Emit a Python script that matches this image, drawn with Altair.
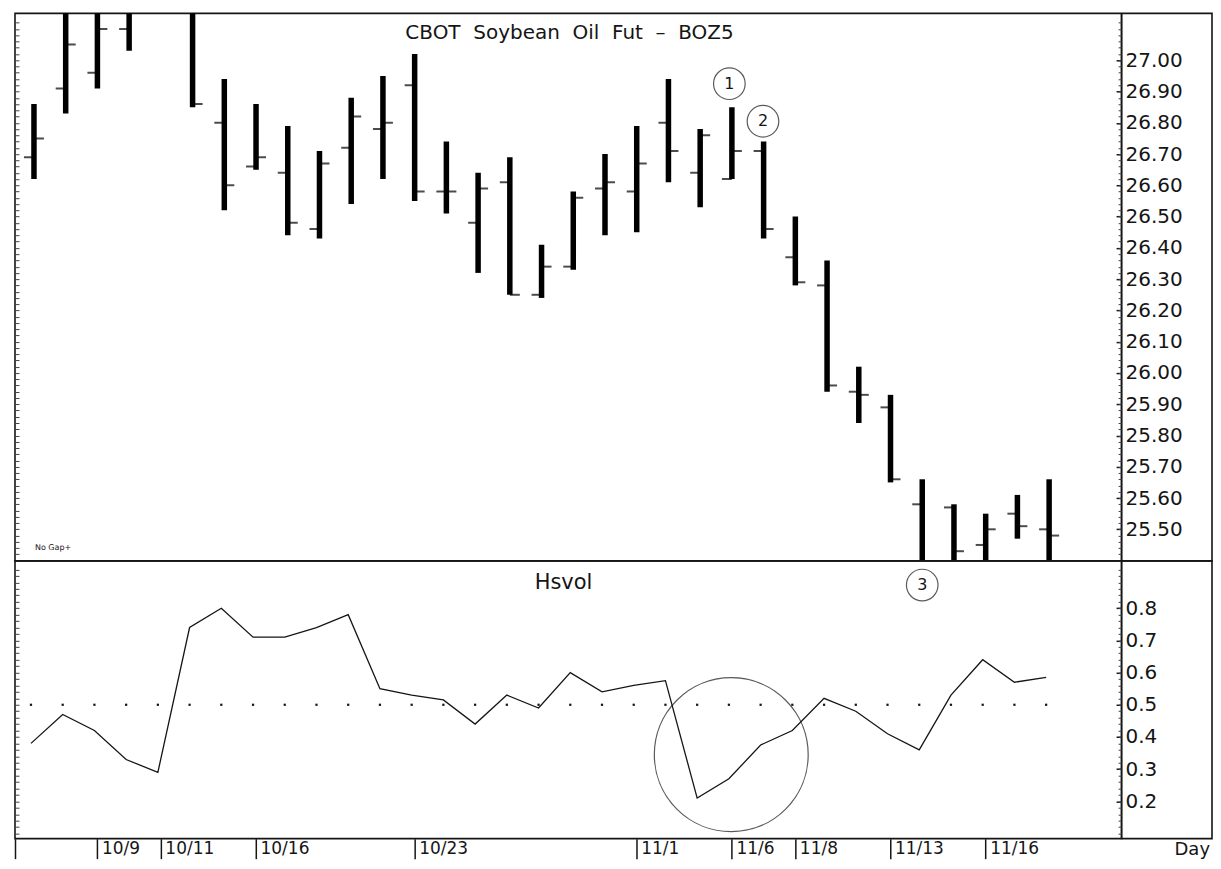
import altair as alt
import pandas as pd
import numpy as np

# ---------------- data ----------------
dates = ["10/5", "10/8", "10/9", "10/10", "10/11", "10/12", "10/15", "10/16", "10/17",
         "10/18", "10/19", "10/22", "10/23", "10/24", "10/25", "10/26", "10/29", "10/30",
         "10/31", "11/1", "11/2", "11/5", "11/6", "11/7", "11/8", "11/9", "11/12", "11/13",
         "11/14", "11/15", "11/16", "11/19", "11/20"]
opens = [26.69, 26.91, 26.96, 27.10, 27.30, 27.18, 26.80, 26.66, 26.64, 26.46, 26.72,
         26.78, 26.92, 26.58, 26.48, 26.61, 26.25, 26.34, 26.59, 26.58, 26.80, 26.64,
         26.62, 26.71, 26.37, 26.28, 25.94, 25.89, 25.58, 25.57, 25.45, 25.55, 25.50]
highs = [26.86, 27.20, 27.20, 27.20, 27.40, 27.20, 26.94, 26.86, 26.79, 26.71, 26.88,
         26.95, 27.02, 26.74, 26.64, 26.69, 26.41, 26.58, 26.70, 26.79, 26.94, 26.78,
         26.85, 26.74, 26.50, 26.36, 26.02, 25.93, 25.66, 25.58, 25.55, 25.61, 25.66]
lows = [26.62, 26.83, 26.91, 27.03, 27.20, 26.85, 26.52, 26.65, 26.44, 26.43, 26.54,
        26.62, 26.55, 26.51, 26.32, 26.25, 26.24, 26.33, 26.44, 26.45, 26.61, 26.53,
        26.62, 26.43, 26.28, 25.94, 25.84, 25.65, 25.35, 25.35, 25.35, 25.47, 25.35]
closes = [26.75, 27.05, 27.10, 27.16, 27.25, 26.86, 26.60, 26.69, 26.48, 26.67, 26.82,
          26.80, 26.58, 26.58, 26.59, 26.25, 26.34, 26.56, 26.61, 26.67, 26.71, 26.76,
          26.71, 26.46, 26.29, 25.96, 25.93, 25.66, 25.38, 25.43, 25.50, 25.51, 25.48]
hsvol = [0.38, 0.47, 0.42, 0.33, 0.29, 0.74, 0.80, 0.71, 0.71, 0.74, 0.78, 0.55, 0.53,
         0.515, 0.44, 0.53, 0.49, 0.60, 0.54, 0.56, 0.575, 0.21, 0.27, 0.375, 0.42, 0.52,
         0.48, 0.41, 0.36, 0.53, 0.64, 0.57, 0.585]
ref_level = 0.5
date_ticks = ["10/9", "10/11", "10/16", "10/23", "11/1", "11/6", "11/8", "11/13", "11/16"]
price_ticks = [25.5, 25.6, 25.7, 25.8, 25.9, 26.0, 26.1, 26.2, 26.3, 26.4, 26.5, 26.6,
               26.7, 26.8, 26.9, 27.0]
vol_ticks = [0.2, 0.3, 0.4, 0.5, 0.6, 0.7, 0.8]
title_text = "CBOT\u00a0 Soybean\u00a0 Oil\u00a0 Fut\u00a0 \u2013\u00a0 BOZ5"
callout_labels = ["1", "2"]
callout_pos_i = [21.92, 22.98]
callout_price = [26.925, 26.805]

# ---------------- layout constants ----------------
W = 1198
H1 = 548
H2 = 278
AXIS_X = 1107
X_DOM = [-0.598, 37.134]
P_DOM = [25.399, 27.150]
V_DOM = [0.084, 0.947]
FONT = "DejaVu Sans"
INK = "#151515"

xs = alt.Scale(domain=X_DOM, nice=False, zero=False)
ps = alt.Scale(domain=P_DOM, nice=False, zero=False)
vs = alt.Scale(domain=V_DOM, nice=False, zero=False)

price_minor = [round(v, 2) for v in np.arange(25.42, 27.14, 0.02)]
vol_minor = [round(v, 2) for v in np.arange(0.10, 0.94, 0.02)]

n = len(dates)
ohlc = pd.DataFrame({"i": list(range(n)), "date": dates, "open": opens, "high": highs,
                     "low": lows, "close": closes})
vol = pd.DataFrame({"i": list(range(n)), "v": hsvol, "ref": [ref_level] * n})


def major_axis(values, fmt):
    return alt.Axis(orient="left", offset=-AXIS_X, values=values, format=fmt,
                    tickSize=5, tickColor=INK, tickWidth=1.5, labelPadding=-9,
                    labelAlign="left", labelBaseline="middle",
                    labelFontSize=20, labelFont=FONT, labelColor=INK,
                    labelOverlap=False, labelFlush=False, domainColor=INK,
                    domainWidth=2, grid=False, title=None, minExtent=0, maxExtent=0)


def minor_axis(values):
    return alt.Axis(orient="left", offset=-AXIS_X, values=values, labels=False,
                    domain=False, tickSize=3, tickColor="#444", tickWidth=1,
                    grid=False, title=None, minExtent=0, maxExtent=0)


def edge_axis(values):
    return alt.Axis(orient="right", offset=-W, values=values, labels=False,
                    domain=False, tickSize=4, tickColor="#444", tickWidth=1,
                    grid=False, title=None, minExtent=0, maxExtent=0)


# ---------------- upper panel ----------------
bars = alt.Chart(ohlc).mark_rule(strokeWidth=5.5, color="black", clip=True).encode(
    x=alt.X("i:Q", scale=xs, axis=None),
    y=alt.Y("low:Q", scale=ps, axis=major_axis(price_ticks, ".2f")),
    y2="high:Q",
)
open_ticks = alt.Chart(ohlc).mark_tick(orient="horizontal", size=10, thickness=2,
                                       xOffset=-5, color="black", clip=True).encode(
    x=alt.X("i:Q", scale=xs, axis=None),
    y=alt.Y("open:Q", scale=ps, axis=minor_axis(price_minor)),
)
close_ticks = alt.Chart(ohlc).mark_tick(orient="horizontal", size=10, thickness=2,
                                        xOffset=5, color="black", clip=True).encode(
    x=alt.X("i:Q", scale=xs, axis=None),
    y=alt.Y("close:Q", scale=ps, axis=edge_axis(price_minor)),
)
callouts = pd.DataFrame({"i": callout_pos_i, "p": callout_price, "label": callout_labels})
callout_circles = alt.Chart(callouts).mark_point(shape="circle", size=1000, filled=False,
                                                 stroke=INK, strokeWidth=1.2).encode(
    x=alt.X("i:Q", scale=xs, axis=None),
    y=alt.Y("p:Q", scale=ps, axis=None),
)
callout_text = alt.Chart(callouts).mark_text(font=FONT, fontSize=16, color=INK,
                                             baseline="middle", align="center").encode(
    x=alt.X("i:Q", scale=xs, axis=None),
    y=alt.Y("p:Q", scale=ps, axis=None),
    text="label:N",
)
title_mark = alt.Chart(pd.DataFrame({"t": [title_text]})).mark_text(
    font=FONT, fontSize=20, color=INK, align="center", baseline="middle").encode(
    text="t:N", x=alt.value(555), y=alt.value(20))
nogap = alt.Chart(pd.DataFrame({"t": ["No Gap+"]})).mark_text(
    font=FONT, fontSize=8, color=INK, align="left", baseline="middle").encode(
    text="t:N", x=alt.value(20), y=alt.value(535))

upper = alt.layer(bars, open_ticks, close_ticks, callout_circles, callout_text,
                  title_mark, nogap).resolve_axis(x="independent", y="independent").properties(
    width=W, height=H1)

# ---------------- lower panel ----------------
tick_idx = [dates.index(d) for d in date_ticks]
labels_js = "[" + ",".join("'" + d + "'" for d in dates) + "]"
x_axis = alt.Axis(orient="bottom", values=[X_DOM[0]] + tick_idx,
                  labelExpr="datum.value < 0 ? '' : " + labels_js + "[round(datum.value)]",
                  tickSize=20, tickColor=INK, tickWidth=1.5, domain=False,
                  labelAlign="left", labelBaseline="top", labelPadding=-18, labelOffset=4,
                  labelFontSize=17, labelFont=FONT, labelColor=INK,
                  labelFlush=False, labelOverlap=False, grid=False,
                  title="Day", titleX=1160, titleY=2, titleAlign="left",
                  titleBaseline="top", titleFontSize=18, titleFont=FONT,
                  titleFontWeight="normal", titleColor=INK, titleAngle=0)

vol_line = alt.Chart(vol).mark_line(color=INK, strokeWidth=1.3, xOffset=-3).encode(
    x=alt.X("i:Q", scale=xs, axis=x_axis),
    y=alt.Y("v:Q", scale=vs, axis=major_axis(vol_ticks, ".1f")),
)
ref_dots = alt.Chart(vol).mark_point(shape="square", filled=True, size=5, color=INK,
                                     opacity=1, xOffset=-3).encode(
    x=alt.X("i:Q", scale=xs, axis=None),
    y=alt.Y("ref:Q", scale=vs, axis=minor_axis(vol_minor)),
)
big_circle = alt.Chart(pd.DataFrame({"i": [21.98], "v": [0.345]})).mark_point(
    shape="circle", size=23716, filled=False, stroke=INK, strokeWidth=1.2).encode(
    x=alt.X("i:Q", scale=xs, axis=None),
    y=alt.Y("v:Q", scale=vs, axis=edge_axis(vol_minor)),
)
c3 = pd.DataFrame({"i": [28.0], "v": [0.872], "label": ["3"]})
c3_circle = alt.Chart(c3).mark_point(shape="circle", size=1000, filled=False, stroke=INK,
                                     strokeWidth=1.2).encode(
    x=alt.X("i:Q", scale=xs, axis=None),
    y=alt.Y("v:Q", scale=vs, axis=None),
)
c3_text = alt.Chart(c3).mark_text(font=FONT, fontSize=16, color=INK, baseline="middle",
                                  align="center").encode(
    x=alt.X("i:Q", scale=xs, axis=None),
    y=alt.Y("v:Q", scale=vs, axis=None),
    text="label:N",
)
hsvol_title = alt.Chart(pd.DataFrame({"t": ["Hsvol"]})).mark_text(
    font=FONT, fontSize=21, color=INK, align="center", baseline="middle").encode(
    text="t:N", x=alt.value(549), y=alt.value(22))

lower = alt.layer(vol_line, ref_dots, big_circle, c3_circle, c3_text,
                  hsvol_title).resolve_axis(x="independent", y="independent").properties(
    width=W, height=H2)

chart = alt.vconcat(upper, lower, spacing=0, bounds="flush").resolve_scale(
    y="independent").properties(
    padding={"left": 5, "top": 4, "right": 0, "bottom": 0},
    background="white",
).configure_view(stroke=INK, strokeWidth=1.6)

chart.save("out.html", embed_options={"renderer": "svg", "actions": False})
